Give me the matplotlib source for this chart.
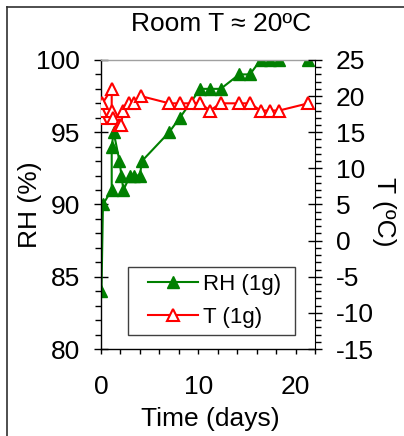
import matplotlib
matplotlib.use("Agg")
import matplotlib.pyplot as plt
from matplotlib.lines import Line2D
from matplotlib.legend_handler import HandlerLine2D
from matplotlib.ticker import MultipleLocator

plt.rcParams['font.family'] = ['Liberation Sans', 'DejaVu Sans']
plt.rcParams['axes.unicode_minus'] = False

# RH (1g) series, left axis
rh_days = [0.05, 0.2, 1.1, 1.1, 1.3, 1.9, 2.1, 2.3, 3.0, 3.4, 4.0, 4.2, 7.0, 8.1,
           10.2, 11.2, 12.3, 14.2, 15.3, 16.4, 17.4, 18.3, 21.3]
rh_vals = [84, 90, 91, 94, 95, 93, 92, 91, 92, 92, 92, 93, 95, 96,
           98, 98, 98, 99, 99, 100, 100, 100, 100]

# T (1g) series, right axis
t_days = [0.0, 0.05, 0.15, 1.1, 1.1, 1.2, 1.8, 2.05, 2.3, 2.9, 3.4, 4.1, 7.0, 8.1,
          9.3, 10.2, 11.2, 12.3, 14.2, 15.3, 16.4, 17.4, 18.3, 21.3]
t_vals = [17, 18, 19, 21, 18, 17, 16, 16, 18, 19, 19, 20, 19, 19,
          19, 19, 18, 19, 19, 19, 18, 18, 18, 19]

fig = plt.figure(figsize=(4.04, 4.36), dpi=100)
ax = fig.add_axes([0.250, 0.1995, 0.530, 0.663])
ax2 = ax.twinx()

green = '#008000'
red = '#ff0000'

l1, = ax.plot(rh_days, rh_vals, color=green, lw=1.5, marker='^', ms=8,
              mfc=green, mec=green, label='RH (1g) ')
l2, = ax2.plot(t_days, t_vals, color=red, lw=1.5, marker='^', ms=8,
               mfc='white', mec=red, mew=1.5, label='T (1g)')

ax.set_xlim(0, 22)
ax.set_ylim(80, 100)
ax2.set_ylim(-15, 25)

ax.xaxis.set_major_locator(MultipleLocator(10))
ax.xaxis.set_minor_locator(MultipleLocator(2))
ax.yaxis.set_major_locator(MultipleLocator(5))
ax.yaxis.set_minor_locator(MultipleLocator(1))
ax2.yaxis.set_major_locator(MultipleLocator(5))
ax2.yaxis.set_minor_locator(MultipleLocator(1))

fs = 19
ax.tick_params(axis='x', which='both', direction='out', length=3.6, width=1,
               pad=15, labelsize=fs)
ax.tick_params(axis='y', which='major', direction='inout', length=10, width=1,
               pad=10, labelsize=fs)
ax.tick_params(axis='y', which='minor', direction='out', length=4.5, width=1)
ax2.tick_params(axis='y', which='major', direction='inout', length=10, width=1,
                pad=10, labelsize=fs)
ax2.tick_params(axis='y', which='minor', direction='out', length=4.5, width=1)

for s in ax.spines.values():
    s.set_linewidth(1)
ax.spines['top'].set_color('#a0a0a0')
ax2.spines['top'].set_visible(False)
ax2.spines['left'].set_visible(False)
ax2.spines['bottom'].set_visible(False)
ax.spines['right'].set_visible(False)

ax.set_ylabel('RH (%)', fontsize=fs)
ax.yaxis.set_label_coords(-0.275, 0.5)
ax2.set_ylabel('T (ºC)', fontsize=fs, rotation=-90, va='center')
ax2.yaxis.set_label_coords(1.322, 0.474)
ax.set_xlabel('Time (days)', fontsize=fs)
ax.xaxis.set_label_coords(0.509, -0.2)

fig.text(221 / 404, 1 - 24 / 436, 'Room T ≈ 20ºC', fontsize=fs,
         ha='center', va='center')

leg = ax2.legend(handles=[l1, l2], loc='lower left', bbox_to_anchor=(0.126, 0.048),
                 borderaxespad=0, fontsize=16, frameon=True, fancybox=False,
                 framealpha=1, edgecolor='#404040', handlelength=2.8, borderpad=0.33,
                 labelspacing=0.53, handletextpad=0.25,
                 handler_map={Line2D: HandlerLine2D(xpad=0.55)})
leg.get_frame().set_linewidth(1)

# outer chart frame (left and top edges only)
fig.add_artist(Line2D([7 / 404, 7 / 404], [0, 1 - 7 / 436], transform=fig.transFigure,
                      color='#303030', lw=1.2))
fig.add_artist(Line2D([7 / 404, 1], [1 - 7 / 436, 1 - 7 / 436], transform=fig.transFigure,
                      color='#303030', lw=1.2))

fig.savefig('out.png', dpi=100)
